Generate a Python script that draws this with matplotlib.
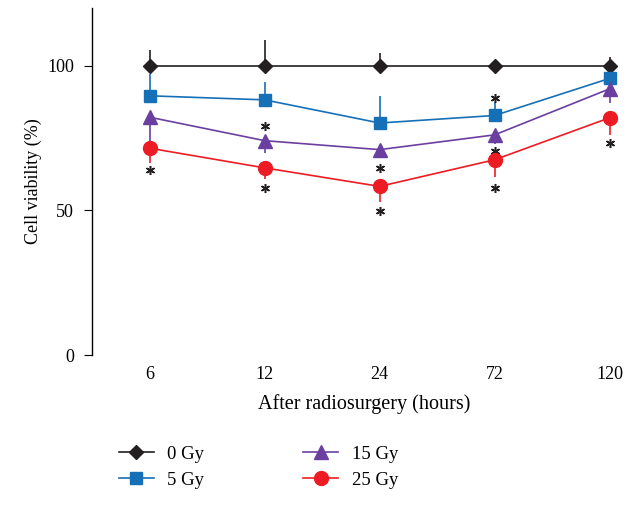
import matplotlib.pyplot as plt
from matplotlib.lines import Line2D

plt.rcParams['font.family'] = ['Liberation Serif', 'DejaVu Serif']

hours = ['6', '12', '24', '72', '120']
labels = ['0 Gy', '5 Gy', '15 Gy', '25 Gy']
colors = ['#231f20', '#1670b8', '#6b3fa0', '#ed1c24']
markers = ['D', 's', '^', 'o']
msizes = [7, 9, 9.5, 10]

# mean viability (%)
v0 = [100, 100, 100, 100, 100]
v5 = [89.6, 88.2, 80.2, 82.8, 95.6]
v15 = [82.2, 74.1, 71.0, 76.1, 92.0]
v25 = [71.5, 64.7, 58.3, 67.5, 82.0]
# one-sided error bars (lower, upper)
e0 = [[0, 0, 0, 0, 0], [5.5, 8.8, 4.5, 0, 3]]
e5 = [[0, 0, 0, 0, 0], [7.5, 6, 9.4, 4.5, 0]]
e15 = [[9.8, 4.3, 3, 3, 5], [0, 0, 0, 0, 0]]
e25 = [[5.2, 4, 5.4, 6, 6], [0, 0, 0, 0, 0]]

# significance stars (x index, y value)
star_x = [0, 1, 1, 2, 2, 3, 3, 3, 4]
star_y = [63.8, 79.3, 57.9, 64.8, 49.7, 89.0, 70.7, 57.9, 73.4]

fig = plt.figure(figsize=(6.36, 5.2), dpi=100)
ax = fig.add_axes([0.145, 0.317, 0.855, 0.668])

x = list(range(len(hours)))
handles = []
for vals, err, c, m, ms, lab in zip([v0, v5, v15, v25], [e0, e5, e15, e25],
                                    colors, markers, msizes, labels):
    ax.errorbar(x, vals, yerr=err, color=c, marker=m, markersize=ms,
                linewidth=1.2, elinewidth=1.2, capsize=0)
    handles.append(Line2D([], [], color=c, marker=m, markersize=ms,
                          linewidth=1.2, label=lab))

ax.plot(star_x, star_y, linestyle='none', marker=(6, 2, 0), markersize=6.5,
        markeredgewidth=1.1, color='#231f20')

ax.set_xlim(-0.5, 4.23)
ax.set_ylim(0, 120)
ax.set_yticks([0, 50, 100])
ax.set_xticks(x)
ax.set_xticklabels(hours)
ax.tick_params(axis='x', length=0, pad=8, labelsize=13)
ax.tick_params(axis='y', direction='out', length=6, pad=7, labelsize=13)
for s in ['top', 'right', 'bottom']:
    ax.spines[s].set_visible(False)
ax.spines['left'].set_linewidth(1.0)
ax.set_xlabel('After radiosurgery (hours)', fontsize=14.5, labelpad=8)
ax.set_ylabel('Cell viability (%)', fontsize=13, labelpad=4)

fig.legend(handles, labels, ncol=2,
           loc='upper left', bbox_to_anchor=(0.16, 0.175), frameon=False,
           fontsize=13.5, handlelength=1.9, handletextpad=0.7,
           columnspacing=5.25, labelspacing=0.45)

fig.savefig('out.png', dpi=100)
